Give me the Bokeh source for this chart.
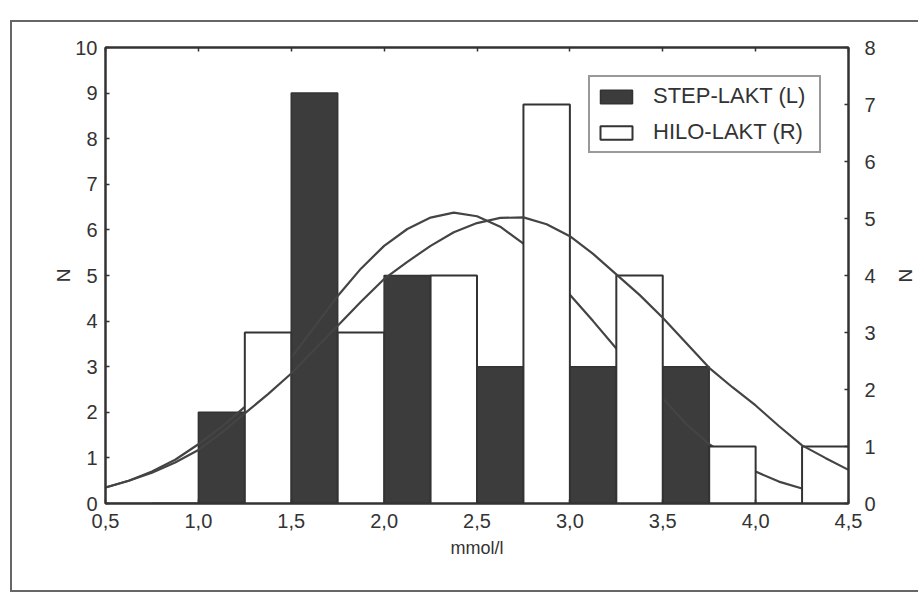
from bokeh.plotting import figure
from bokeh.models import (LinearAxis, Range1d, FixedTicker, Legend, LegendItem)
from bokeh.embed import file_html
from bokeh.resources import INLINE

# ---------------- data ----------------
step_left = [0.5, 1.0, 1.5, 2.0, 2.5, 3.0, 3.5, 4.0]
step_counts = [0, 2, 9, 5, 3, 3, 3, 0]          # left axis (N)
hilo_left = [0.75, 1.25, 1.75, 2.25, 2.75, 3.25, 3.75, 4.25]
hilo_counts = [0, 3, 3, 4, 7, 4, 1, 1]          # right axis (N)
bar_width = 0.25

curve_x = [0.5, 0.625, 0.75, 0.875, 1.0, 1.125, 1.25, 1.375, 1.5, 1.625, 1.75,
           1.875, 2.0, 2.125, 2.25, 2.375, 2.5, 2.625, 2.75, 2.875, 3.0, 3.125,
           3.25, 3.375, 3.5, 3.625, 3.75, 3.875, 4.0, 4.125, 4.25, 4.375, 4.5]
step_curve = [0.35, 0.50, 0.70, 0.96, 1.30, 1.68, 2.12, 2.63, 3.20, 3.87, 4.55,
              5.15, 5.65, 6.02, 6.27, 6.38, 6.30, 6.07, 5.70, 5.18, 4.58, 4.00,
              3.40, 2.82, 2.30, 1.75, 1.30, 0.97, 0.70, 0.48, 0.33, 0.22, 0.15]
hilo_curve = [0.28, 0.40, 0.54, 0.72, 0.94, 1.24, 1.58, 1.92, 2.28, 2.70, 3.12,
              3.54, 3.94, 4.24, 4.52, 4.76, 4.92, 5.01, 5.02, 4.90, 4.69, 4.38,
              4.02, 3.66, 3.26, 2.82, 2.38, 2.04, 1.72, 1.36, 1.02, 0.80, 0.59]

x_ticks = [0.5, 1.0, 1.5, 2.0, 2.5, 3.0, 3.5, 4.0, 4.5]
x_tick_labels = ["0,5", "1,0", "1,5", "2,0", "2,5", "3,0", "3,5", "4,0", "4,5"]
left_ticks = [0, 1, 2, 3, 4, 5, 6, 7, 8, 9, 10]
right_ticks = [0, 1, 2, 3, 4, 5, 6, 7, 8]

x_label = "mmol/l"
y_label = "N"
series_names = ["STEP-LAKT (L)", "HILO-LAKT (R)"]

# ---------------- style ----------------
FONT = "Liberation Sans"
INK = "#333333"
DARK = "#3c3c3c"
PAGE_LINE = "#666666"

p = figure(width=912, height=594, frame_width=743, frame_height=456,
           min_border_left=105, min_border_right=64, min_border_top=47,
           min_border_bottom=91,
           x_range=Range1d(0.5, 4.5), y_range=Range1d(0, 10),
           output_backend="svg", toolbar_location=None)
p.extra_y_ranges = {"right": Range1d(0, 8)}
p.grid.visible = False
p.outline_line_color = INK
p.outline_line_width = 2
p.background_fill_color = "white"
p.border_fill_color = "white"
p.border_fill_alpha = 0.0
# thin frame of the scanned page (left, top and bottom edges)
p.styles = {
    "background-color": "white",
    "background-image": ("linear-gradient(%s,%s), linear-gradient(%s,%s), "
                         "linear-gradient(%s,%s)") % ((PAGE_LINE,) * 6),
    "background-size": "2px 571px, 920px 2px, 920px 2px",
    "background-position": "10px 20px, 10px 20px, 10px 590px",
    "background-repeat": "no-repeat",
}

# bars and curves (layering: dark bars, STEP curve, white bars, HILO curve)
dark = p.quad(left=step_left, right=[v + bar_width for v in step_left],
              bottom=0, top=step_counts, fill_color=DARK, line_color=INK,
              line_width=1.5)
p.line(curve_x, step_curve, line_color="#444444", line_width=2.2)
white = p.quad(left=hilo_left, right=[v + bar_width for v in hilo_left],
               bottom=0, top=hilo_counts, fill_color="white", line_color=INK,
               line_width=2, y_range_name="right")
p.line(curve_x, hilo_curve, line_color="#444444", line_width=2.2,
       y_range_name="right")

# axes
def style_axis(ax):
    ax.axis_line_color = INK
    ax.axis_line_width = 2
    ax.major_tick_line_color = INK
    ax.major_tick_line_width = 1.5
    ax.major_tick_in = 4
    ax.major_tick_out = 0
    ax.minor_tick_line_color = None
    ax.major_label_text_font = FONT
    ax.major_label_text_font_size = "20px"
    ax.major_label_text_color = INK
    ax.axis_label_text_font = FONT
    ax.axis_label_text_font_style = "normal"
    ax.axis_label_text_font_size = "18px"
    ax.axis_label_text_color = INK

xa = p.xaxis[0]
style_axis(xa)
xa.ticker = FixedTicker(ticks=x_ticks)
xa.major_label_overrides = {t: s for t, s in zip(x_ticks, x_tick_labels)}
xa.major_label_standoff = 10
xa.axis_label = x_label
xa.axis_label_standoff = 7

ya = p.yaxis[0]
style_axis(ya)
ya.ticker = FixedTicker(ticks=left_ticks)
ya.major_label_standoff = 8
ya.axis_label = y_label
ya.axis_label_text_font_size = "19px"
ya.axis_label_standoff = -2

ra = LinearAxis(y_range_name="right")
style_axis(ra)
ra.ticker = FixedTicker(ticks=right_ticks)
ra.major_label_standoff = 16
ra.axis_label = y_label
ra.axis_label_text_font_size = "19px"
ra.axis_label_standoff = 16
p.add_layout(ra, "right")

ta = LinearAxis()
style_axis(ta)
ta.ticker = FixedTicker(ticks=x_ticks)
ta.major_label_text_color = None
ta.major_label_text_font_size = "1px"
ta.major_label_standoff = 0
p.add_layout(ta, "above")

# legend
legend = Legend(items=[LegendItem(label=series_names[0], renderers=[dark]),
                       LegendItem(label=series_names[1], renderers=[white])],
                location=(483, 350), orientation="vertical",
                glyph_width=40, glyph_height=17, label_standoff=17,
                label_width=160, label_height=24, spacing=10, padding=6,
                label_text_font=FONT, label_text_font_size="22px",
                label_text_color=INK, border_line_color=INK,
                border_line_width=2, background_fill_color="white",
                background_fill_alpha=1.0)
p.add_layout(legend, "center")

open("out.html", "w").write(file_html(p, INLINE))
